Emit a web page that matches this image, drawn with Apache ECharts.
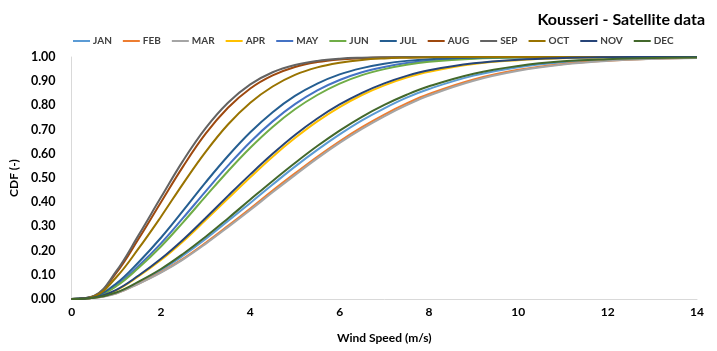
<!DOCTYPE html>
<html>
<head>
<meta charset="utf-8">
<script src="https://cdn.jsdelivr.net/npm/echarts@6/dist/echarts.min.js"></script>
<style>
  html, body { margin: 0; padding: 0; background: #fff; }
  #chart { width: 717px; height: 351px; }
</style>
</head>
<body>
<div id="chart"></div>
<script>
// Wind speed bins (m/s)
const windSpeed = [0, 0.5, 1, 1.5, 2, 2.5, 3, 3.5, 4, 4.5, 5, 5.5, 6, 6.5, 7, 7.5, 8, 9, 10, 11, 12, 13, 14];

// Monthly cumulative distribution of wind speed
const JAN = [0, 0.005, 0.026, 0.069, 0.119, 0.180, 0.248, 0.322, 0.397, 0.473, 0.547, 0.616, 0.680, 0.738, 0.788, 0.832, 0.868, 0.923, 0.958, 0.978, 0.990, 0.995, 0.998];
const FEB = [0, 0.005, 0.024, 0.064, 0.111, 0.167, 0.232, 0.302, 0.374, 0.448, 0.519, 0.588, 0.652, 0.710, 0.762, 0.808, 0.847, 0.907, 0.947, 0.971, 0.985, 0.993, 0.997];
const MAR = [0, 0.005, 0.023, 0.063, 0.109, 0.164, 0.228, 0.297, 0.368, 0.441, 0.512, 0.581, 0.645, 0.703, 0.755, 0.801, 0.841, 0.902, 0.943, 0.969, 0.984, 0.992, 0.996];
const APR = [0, 0.006, 0.036, 0.094, 0.161, 0.239, 0.326, 0.415, 0.503, 0.588, 0.665, 0.734, 0.793, 0.843, 0.883, 0.915, 0.939, 0.971, 0.987, 0.995, 0.998, 0.999, 1.000];
const MAY = [0, 0.009, 0.057, 0.137, 0.230, 0.336, 0.445, 0.551, 0.649, 0.734, 0.805, 0.862, 0.905, 0.937, 0.959, 0.975, 0.985, 0.995, 0.999, 1.000, 1.000, 1.000, 1.000];
const JUN = [0, 0.008, 0.053, 0.129, 0.217, 0.318, 0.424, 0.528, 0.625, 0.711, 0.784, 0.843, 0.890, 0.925, 0.950, 0.968, 0.980, 0.993, 0.998, 0.999, 1.000, 1.000, 1.000];
const JUL = [0, 0.010, 0.064, 0.152, 0.253, 0.366, 0.482, 0.591, 0.689, 0.772, 0.839, 0.890, 0.928, 0.954, 0.972, 0.984, 0.991, 0.997, 0.999, 1.000, 1.000, 1.000, 1.000];
const AUG = [0, 0.012, 0.108, 0.249, 0.400, 0.549, 0.683, 0.790, 0.870, 0.924, 0.959, 0.979, 0.990, 0.995, 0.998, 0.999, 1.000, 1.000, 1.000, 1.000, 1.000, 1.000, 1.000];
const SEP = [0, 0.013, 0.115, 0.264, 0.420, 0.573, 0.706, 0.811, 0.887, 0.937, 0.967, 0.984, 0.993, 0.997, 0.999, 1.000, 1.000, 1.000, 1.000, 1.000, 1.000, 1.000, 1.000];
const OCT = [0, 0.011, 0.090, 0.209, 0.340, 0.478, 0.608, 0.721, 0.811, 0.878, 0.926, 0.957, 0.976, 0.988, 0.994, 0.997, 0.999, 1.000, 1.000, 1.000, 1.000, 1.000, 1.000];
const NOV = [0, 0.006, 0.038, 0.097, 0.166, 0.246, 0.335, 0.426, 0.515, 0.600, 0.678, 0.746, 0.804, 0.852, 0.891, 0.922, 0.945, 0.974, 0.989, 0.996, 0.999, 1.000, 1.000];
const DEC = [0, 0.005, 0.027, 0.072, 0.124, 0.187, 0.257, 0.333, 0.411, 0.488, 0.562, 0.632, 0.696, 0.753, 0.802, 0.844, 0.879, 0.931, 0.963, 0.982, 0.991, 0.996, 0.998];

const months = ['JAN', 'FEB', 'MAR', 'APR', 'MAY', 'JUN', 'JUL', 'AUG', 'SEP', 'OCT', 'NOV', 'DEC'];
const monthData = [JAN, FEB, MAR, APR, MAY, JUN, JUL, AUG, SEP, OCT, NOV, DEC];
const monthColors = ['#5B9BD5', '#ED7D31', '#A5A5A5', '#FFC000', '#4472C4', '#70AD47',
                     '#255E91', '#9E480E', '#636363', '#997300', '#264478', '#43682B'];

const FONT = 'Lato, "Liberation Sans", sans-serif';

const series = months.map((name, i) => ({
  name: name,
  type: 'line',
  smooth: 0.4,
  showSymbol: false,
  symbol: 'none',
  lineStyle: { width: 2, color: monthColors[i] },
  itemStyle: { color: monthColors[i] },
  data: windSpeed.map((x, j) => [x, monthData[i][j]])
}));

const chart = echarts.init(document.getElementById('chart'), null, { renderer: 'canvas' });
chart.setOption({
  animation: false,
  backgroundColor: '#ffffff',
  textStyle: { fontFamily: FONT },
  title: {
    text: 'Kousseri - Satellite data',
    right: 7,
    top: 7,
    textStyle: { fontFamily: FONT, fontSize: 16, fontWeight: 'bold', color: '#000' }
  },
  legend: {
    data: months,
    left: 68,
    top: 31,
    icon: 'rect',
    itemWidth: 17,
    itemHeight: 2,
    itemGap: 11,
    textStyle: { fontFamily: FONT, fontSize: 10, fontWeight: 'bold', color: '#404040', padding: [0, 0, 0, -2] }
  },
  grid: { left: 70, right: 20, top: 57, bottom: 52 },
  xAxis: {
    type: 'value',
    min: 0,
    max: 14,
    interval: 2,
    name: 'Wind Speed (m/s)',
    nameLocation: 'middle',
    nameGap: 33,
    nameTextStyle: { fontFamily: FONT, fontSize: 12, fontWeight: 'bold', color: '#000' },
    axisLine: { show: true, lineStyle: { color: '#D9D9D9', width: 1 } },
    axisTick: { show: false },
    splitLine: { show: false },
    axisLabel: { fontFamily: FONT, fontSize: 12, fontWeight: 'bold', color: '#000', margin: 7 }
  },
  yAxis: {
    type: 'value',
    min: 0,
    max: 1,
    interval: 0.1,
    name: 'CDF (-)',
    nameLocation: 'middle',
    nameGap: 40,
    nameTextStyle: { fontFamily: FONT, fontSize: 12, fontWeight: 'bold', color: '#000' },
    axisLine: { show: true, lineStyle: { color: '#D9D9D9', width: 1 } },
    axisTick: { show: false },
    splitLine: { show: false },
    axisLabel: {
      fontFamily: FONT, fontSize: 12.5, fontWeight: 'bold', color: '#000', margin: 16,
      formatter: v => v.toFixed(2)
    }
  },
  series: series
});
</script>
</body>
</html>
